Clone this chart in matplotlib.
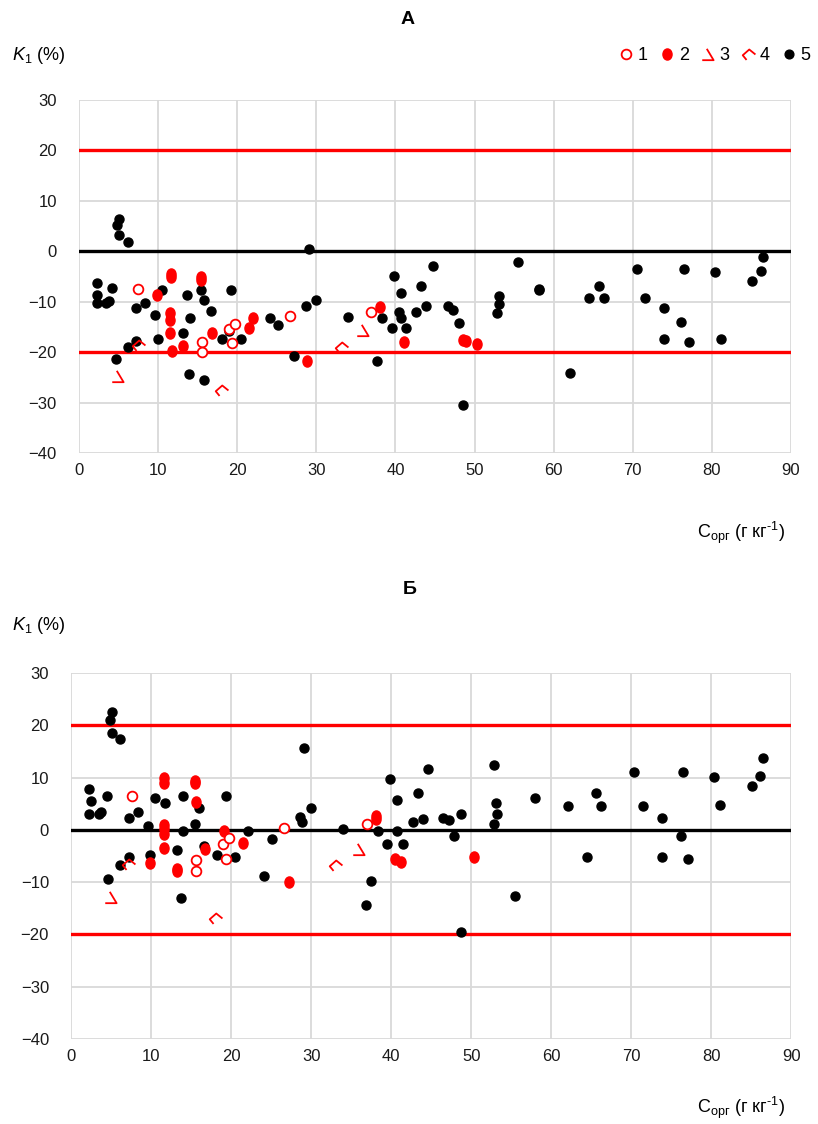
import matplotlib
matplotlib.use('Agg')
import matplotlib.pyplot as plt
from matplotlib.path import Path
from matplotlib.lines import Line2D
from matplotlib.transforms import Affine2D

plt.rcParams['font.family'] = ['Liberation Sans', 'DejaVu Sans']
plt.rcParams['mathtext.fontset'] = 'custom'
plt.rcParams['mathtext.rm'] = 'Liberation Sans'
plt.rcParams['mathtext.it'] = 'Liberation Sans:italic'

# ---------------- панель А ----------------
a_open_x = [7.5, 15.6, 15.6, 18.9, 19.7, 19.3, 26.7, 36.9]
a_open_y = [-7.4, -17.9, -19.9, -15.4, -14.5, -18.1, -12.8, -12.1]

a_fill_x = [11.6, 11.6, 15.4, 15.4, 9.8, 11.5, 11.5, 11.5, 13.2, 11.7,
            16.85, 21.5, 22.0, 28.8, 38.1, 41.1, 48.5, 48.9, 50.3]
a_fill_y = [-4.6, -5.1, -5.0, -5.7, -8.6, -12.3, -13.6, -16.2, -18.7, -19.7,
            -16.2, -15.3, -13.3, -21.7, -11.1, -18.0, -17.6, -17.7, -18.3]

a_m3_x = [4.97, 35.9]
a_m3_y = [-24.7, -15.7]
a_m4_x = [7.5, 17.9, 33.1]
a_m4_y = [-18.5, -27.5, -19.0]

a_black_x = [5.09, 4.84, 5.09, 6.16, 29.1, 2.31, 2.31, 4.21, 2.31, 3.38,
             3.83, 7.21, 8.31, 10.46, 9.57, 13.6, 15.4, 15.8, 14.0, 16.65,
             19.2, 7.21, 6.16, 4.64, 9.99, 13.2, 13.9, 15.8, 18.1, 19.0,
             20.5, 24.1, 25.2, 27.2, 28.7, 30.0, 34.0, 37.7, 38.3, 39.8,
             40.7, 40.5, 40.7, 39.6, 41.3, 42.6, 43.2, 43.9, 44.75, 46.7,
             47.3, 48.0, 48.6, 53.1, 53.1, 52.9, 55.5, 58.1, 58.1, 62.1,
             64.5, 65.7, 66.4, 70.5, 71.5, 73.9, 73.9, 76.1, 76.5, 77.1,
             80.4, 81.2, 85.1, 86.2, 86.4]
a_black_y = [6.5, 5.2, 3.2, 1.9, 0.5, -6.2, -8.6, -7.2, -10.3, -10.3,
             -9.8, -11.2, -10.3, -7.6, -12.6, -8.6, -7.6, -9.6, -13.3, -11.9,
             -7.6, -17.7, -19.0, -21.3, -17.3, -16.3, -24.3, -25.6, -17.3, -15.9,
             -17.3, -13.3, -14.6, -20.7, -10.9, -9.6, -13.0, -21.7, -13.3, -4.9,
             -8.3, -12.0, -13.2, -15.3, -15.3, -12.0, -6.9, -10.9, -2.9, -10.9,
             -11.6, -14.3, -30.5, -8.9, -10.5, -12.2, -2.2, -7.4, -7.7, -24.1,
             -9.3, -6.9, -9.3, -3.5, -9.3, -11.2, -17.3, -14.0, -3.5, -18.0,
             -4.2, -17.3, -5.9, -3.9, -1.2]

# ---------------- панель Б ----------------
b_open_x = [7.55, 15.6, 15.6, 18.9, 19.7, 19.3, 26.6, 36.9]
b_open_y = [6.4, -5.7, -7.8, -2.8, -1.6, -5.6, 0.3, 1.2]

b_fill_x = [11.55, 11.55, 15.4, 15.4, 15.6, 11.55, 11.55, 11.55, 11.55, 9.8,
            13.25, 13.25, 16.75, 19.1, 21.5, 27.2, 38.05, 38.1, 40.5, 41.2, 50.3]
b_fill_y = [9.9, 9.0, 9.3, 8.9, 5.4, 1.0, 0.1, -0.8, -3.4, -6.4,
            -7.4, -7.9, -3.6, -0.2, -2.6, -9.9, 2.1, 2.6, -5.5, -6.1, -5.2]

b_m3_x = [4.9, 35.9]
b_m3_y = [-12.8, -3.6]
b_m4_x = [7.1, 18.0, 33.0]
b_m4_y = [-6.6, -16.9, -6.7]

b_black_x = [5.05, 4.84, 5.05, 6.1, 29.05, 2.25, 2.46, 4.4, 2.25, 3.5,
             3.75, 7.2, 8.3, 9.6, 10.5, 11.75, 13.9, 15.9, 15.4, 13.9,
             19.3, 16.55, 13.25, 7.2, 6.1, 4.6, 9.8, 13.7, 18.2, 20.4,
             22.1, 25.1, 24.05, 28.6, 28.8, 29.9, 34.0, 38.3, 36.8, 37.5,
             39.4, 39.8, 40.7, 40.7, 41.4, 42.7, 43.3, 44.0, 44.6, 46.5,
             47.2, 47.8, 48.7, 48.7, 52.8, 53.05, 53.25, 52.8, 55.4, 58.0,
             62.1, 64.5, 65.6, 66.25, 70.3, 71.4, 73.8, 73.8, 76.2, 76.4,
             77.05, 80.3, 81.1, 85.05, 86.1, 86.4]
b_black_y = [22.6, 21.0, 18.6, 17.3, 15.7, 7.8, 5.5, 6.4, 3.1, 3.1,
             3.4, 2.2, 3.4, 0.8, 6.1, 5.1, 6.4, 4.1, 1.1, -0.2,
             6.4, -3.1, -3.8, -5.2, -6.7, -9.4, -4.8, -13.1, -4.8, -5.2,
             -0.2, -1.8, -8.8, 2.5, 1.5, 4.1, 0.1, -0.2, -14.4, -9.7,
             -2.8, 9.7, 5.8, -0.2, -2.8, 1.5, 7.1, 2.1, 11.7, 2.2,
             1.8, -1.1, 3.1, -19.6, 12.4, 5.1, 3.1, 1.1, -12.7, 6.1,
             4.5, -5.2, 7.1, 4.5, 11.1, 4.5, 2.2, -5.2, -1.2, 11.1,
             -5.5, 10.1, 4.8, 8.4, 10.3, 13.7]

x_ticks = [0, 10, 20, 30, 40, 50, 60, 70, 80, 90]
y_ticks = [-40, -30, -20, -10, 0, 10, 20, 30]
legend_labels = ['1', '2', '3', '4', '5']

# маркеры 3 и 4 (ломаные линии) и овальная точка
M3 = Path([(-0.15, 0.5), (0.45, -0.5), (-0.55, -0.5)],
          [Path.MOVETO, Path.LINETO, Path.LINETO])
M4 = Path([(1.0, 0.0), (0.11, 0.72), (-0.83, -0.11), (-0.28, -0.78)],
          [Path.MOVETO, Path.LINETO, Path.LINETO, Path.LINETO])
OVAL = Affine2D().scale(0.82, 1.0).transform_path(Path.unit_circle())

RED = '#ff0000'
W, H = 818, 1124


def draw_panel(ax, ox, oy, fx, fy, m3x, m3y, m4x, m4y, bx, by):
    ax.set_xlim(0, 90)
    ax.set_ylim(-40, 30)
    ax.set_xticks(x_ticks)
    ax.set_yticks(y_ticks)
    ax.grid(True, color='#d9d9d9', linewidth=1.3, zorder=0)
    for s in ax.spines.values():
        s.set_visible(False)
    ax.tick_params(length=0, labelsize=12, labelcolor='#1a1a1a')
    ax.tick_params(axis='y', pad=16)
    ax.tick_params(axis='x', pad=7)

    # линии 0 и ±20
    ax.axhline(0, color='black', linewidth=2.4, zorder=2)
    ax.axhline(20, color=RED, linewidth=2.4, zorder=2)
    ax.axhline(-20, color=RED, linewidth=2.4, zorder=2)

    ax.plot(bx, by, 'o', color='black', markersize=6.5, linestyle='none', zorder=3)
    ax.plot(fx, fy, marker=OVAL, color=RED, markersize=8, linestyle='none', zorder=4)
    ax.plot(ox, oy, 'o', markerfacecolor='white', markeredgecolor=RED,
            markeredgewidth=1.3, markersize=7, linestyle='none', zorder=4)
    ax.plot(m3x, m3y, marker=M3, color=RED, markerfacecolor='none',
            markeredgewidth=1.3, markersize=9, linestyle='none', zorder=4)
    ax.plot(m4x, m4y, marker=M4, color=RED, markerfacecolor='none',
            markeredgewidth=1.3, markersize=10, linestyle='none', zorder=4)


fig = plt.figure(figsize=(W / 100, H / 100), dpi=100)

ax_a = fig.add_axes([79 / W, 1 - 453 / H, 712 / W, 353 / H])
draw_panel(ax_a, a_open_x, a_open_y, a_fill_x, a_fill_y,
           a_m3_x, a_m3_y, a_m4_x, a_m4_y, a_black_x, a_black_y)

ax_b = fig.add_axes([71.3 / W, 1 - 1039 / H, 720 / W, 366 / H])
draw_panel(ax_b, b_open_x, b_open_y, b_fill_x, b_fill_y,
           b_m3_x, b_m3_y, b_m4_x, b_m4_y, b_black_x, b_black_y)

# заголовки и подписи осей
fig.text(408 / W, 1 - 20 / H, 'А', fontsize=14, fontweight='bold', ha='center', va='center')
fig.text(410 / W, 1 - 590 / H, 'Б', fontsize=14, fontweight='bold', ha='center', va='center')

ylab = r'$K_{1}$ (%)'
fig.text(12 / W, 1 - 56 / H, ylab, fontsize=13, ha='left', va='center')
fig.text(12 / W, 1 - 626 / H, ylab, fontsize=13, ha='left', va='center')

xlab = 'C$_{\\mathrm{орг}}$ (г кг$^{\\mathrm{\u20101}}$)'
fig.text(785 / W, 1 - 533 / H, xlab, fontsize=13, ha='right', va='center')
fig.text(785 / W, 1 - 1108 / H, xlab, fontsize=13, ha='right', va='center')

# легенда над панелью А
handles = [
    Line2D([], [], marker='o', markerfacecolor='white', markeredgecolor=RED,
           markeredgewidth=1.3, markersize=7, linestyle='none'),
    Line2D([], [], marker=OVAL, color=RED, markersize=8, linestyle='none'),
    Line2D([], [], marker=M3, color=RED, markerfacecolor='none',
           markeredgewidth=1.3, markersize=9, linestyle='none'),
    Line2D([], [], marker=M4, color=RED, markerfacecolor='none',
           markeredgewidth=1.3, markersize=10, linestyle='none'),
    Line2D([], [], marker='o', color='black', markersize=6.3, linestyle='none'),
]
fig.legend(handles, legend_labels, ncol=5, frameon=False, fontsize=13,
           loc='center right', bbox_to_anchor=(818 / W, 1 - 56 / H),
           handlelength=0.9, handletextpad=0.2, columnspacing=0.6,
           borderaxespad=0)

fig.savefig('out.png', dpi=100)
plt.close(fig)
